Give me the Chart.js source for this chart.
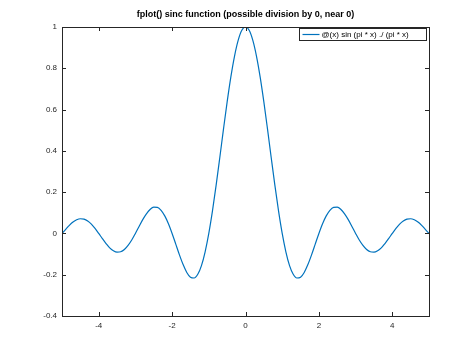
<!DOCTYPE html>
<html>
<head>
<meta charset="utf-8">
<script src="https://cdn.jsdelivr.net/npm/chart.js@4.4.1/dist/chart.umd.min.js"></script>
<style>
  html, body { margin: 0; padding: 0; background: #fff; }
  #wrap { width: 474px; height: 355px; }
</style>
</head>
<body>
<div id="wrap"><canvas id="sinc"></canvas></div>
<script>
// sample points
const xs = [
  -5.0, -4.9, -4.8, -4.7, -4.6, -4.5, -4.4, -4.3, -4.2, -4.1,
  -4.0, -3.9, -3.8, -3.7, -3.6, -3.5, -3.4, -3.3, -3.2, -3.1,
  -3.0, -2.9, -2.8, -2.7, -2.6, -2.5, -2.4, -2.3, -2.2, -2.1,
  -2.0, -1.9, -1.8, -1.7, -1.6, -1.5, -1.4, -1.3, -1.2, -1.1,
  -1.0, -0.9, -0.8, -0.7, -0.6, -0.5, -0.4, -0.3, -0.2, -0.1,
  0.0,
  0.1, 0.2, 0.3, 0.4, 0.5, 0.6, 0.7, 0.8, 0.9, 1.0,
  1.1, 1.2, 1.3, 1.4, 1.5, 1.6, 1.7, 1.8, 1.9, 2.0,
  2.1, 2.2, 2.3, 2.4, 2.5, 2.6, 2.7, 2.8, 2.9, 3.0,
  3.1, 3.2, 3.3, 3.4, 3.5, 3.6, 3.7, 3.8, 3.9, 4.0,
  4.1, 4.2, 4.3, 4.4, 4.5, 4.6, 4.7, 4.8, 4.9, 5.0
];
const ys = [
  0.000, 0.020, 0.039, 0.055, 0.066, 0.071, 0.069, 0.060, 0.045, 0.024,
  0.000, -0.025, -0.049, -0.070, -0.084, -0.091, -0.089, -0.078, -0.058, -0.032,
  0.000, 0.034, 0.067, 0.095, 0.116, 0.127, 0.126, 0.112, 0.085, 0.047,
  0.000, -0.052, -0.104, -0.151, -0.189, -0.212, -0.216, -0.198, -0.156, -0.089,
  0.000, 0.109, 0.234, 0.368, 0.505, 0.637, 0.757, 0.858, 0.935, 0.984,
  1.000,
  0.984, 0.935, 0.858, 0.757, 0.637, 0.505, 0.368, 0.234, 0.109, 0.000,
  -0.089, -0.156, -0.198, -0.216, -0.212, -0.189, -0.151, -0.104, -0.052, 0.000,
  0.047, 0.085, 0.112, 0.126, 0.127, 0.116, 0.095, 0.067, 0.034, 0.000,
  -0.032, -0.058, -0.078, -0.089, -0.091, -0.084, -0.070, -0.049, -0.025, 0.000,
  0.024, 0.045, 0.060, 0.069, 0.071, 0.066, 0.055, 0.039, 0.020, 0.000
];
const xTicks = [-4, -2, 0, 2, 4];
const yTicks = [-0.4, -0.2, 0, 0.2, 0.4, 0.6, 0.8, 1];
const title = "fplot() sinc function (possible division by 0, near 0)";
const seriesName = "@(x) sin (pi * x) ./ (pi * x)";

const axisColor = "#262626";
const lineColor = "#0072bd";

// title, box around the axes, inward ticks on all sides, legend box
const frame = {
  id: "frame",
  afterDraw(chart) {
    const ctx = chart.ctx;
    const a = chart.chartArea;
    const sx = chart.scales.x;
    const sy = chart.scales.y;
    const len = 4;
    ctx.save();

    ctx.fillStyle = "#000";
    ctx.font = "bold 9px 'Liberation Sans'";
    ctx.textAlign = "center";
    ctx.textBaseline = "middle";
    ctx.fillText(title, (a.left + a.right) / 2, 15);

    ctx.strokeStyle = axisColor;
    ctx.lineWidth = 1;
    ctx.strokeRect(Math.round(a.left) + 0.5, Math.round(a.top) + 0.5,
      Math.round(a.right - a.left), Math.round(a.bottom - a.top));
    ctx.beginPath();
    xTicks.forEach(function (v) {
      const px = Math.round(sx.getPixelForValue(v)) + 0.5;
      ctx.moveTo(px, a.bottom);
      ctx.lineTo(px, a.bottom - len);
      ctx.moveTo(px, a.top);
      ctx.lineTo(px, a.top + len);
    });
    yTicks.forEach(function (v) {
      const py = Math.round(sy.getPixelForValue(v)) + 0.5;
      ctx.moveTo(a.left, py);
      ctx.lineTo(a.left + len, py);
      ctx.moveTo(a.right, py);
      ctx.lineTo(a.right - len, py);
    });
    ctx.stroke();

    // legend
    const bx = Math.round(a.right) - 129.5;
    const by = Math.round(a.top) + 1.5;
    ctx.fillStyle = "#fff";
    ctx.fillRect(bx, by, 127, 12);
    ctx.strokeRect(bx, by, 127, 12);
    ctx.strokeStyle = lineColor;
    ctx.lineWidth = 1.2;
    ctx.beginPath();
    ctx.moveTo(bx + 3, by + 6);
    ctx.lineTo(bx + 20, by + 6);
    ctx.stroke();
    ctx.fillStyle = "#000";
    ctx.font = "8px 'Liberation Sans'";
    ctx.textAlign = "left";
    ctx.fillText(seriesName, bx + 22, by + 6.5);
    ctx.restore();
  },
};

const ctx = document.getElementById("sinc").getContext("2d");
new Chart(ctx, {
  type: "line",
  data: {
    datasets: [
      {
        label: seriesName,
        data: xs.map(function (x, i) { return { x: x, y: ys[i] }; }),
        borderColor: lineColor,
        backgroundColor: lineColor,
        borderWidth: 1.2,
        pointRadius: 0,
        cubicInterpolationMode: "monotone",
        fill: false,
      },
    ],
  },
  options: {
    responsive: true,
    maintainAspectRatio: false,
    animation: false,
    layout: { padding: { left: 0, top: 27, right: 45, bottom: 0 } },
    plugins: {
      title: { display: false },
      legend: { display: false },
      tooltip: { enabled: false },
    },
    scales: {
      x: {
        type: "linear",
        min: -5,
        max: 5,
        grid: { display: false, drawTicks: false },
        border: { display: false },
        afterBuildTicks: function (s) {
          s.ticks = xTicks.map(function (v) { return { value: v }; });
        },
        afterFit: function (s) { s.height = 39; },
        ticks: {
          color: axisColor,
          padding: 5,
          maxRotation: 0,
          font: { family: "Liberation Sans", size: 8 },
        },
      },
      y: {
        min: -0.4,
        max: 1,
        grid: { display: false, drawTicks: false },
        border: { display: false },
        afterBuildTicks: function (s) {
          s.ticks = yTicks.map(function (v) { return { value: v }; });
        },
        afterFit: function (s) { s.width = 62; },
        ticks: {
          color: axisColor,
          padding: 5,
          font: { family: "Liberation Sans", size: 8 },
          callback: function (v) { return String(+v.toFixed(1)); },
        },
      },
    },
  },
  plugins: [frame],
});
</script>
</body>
</html>
